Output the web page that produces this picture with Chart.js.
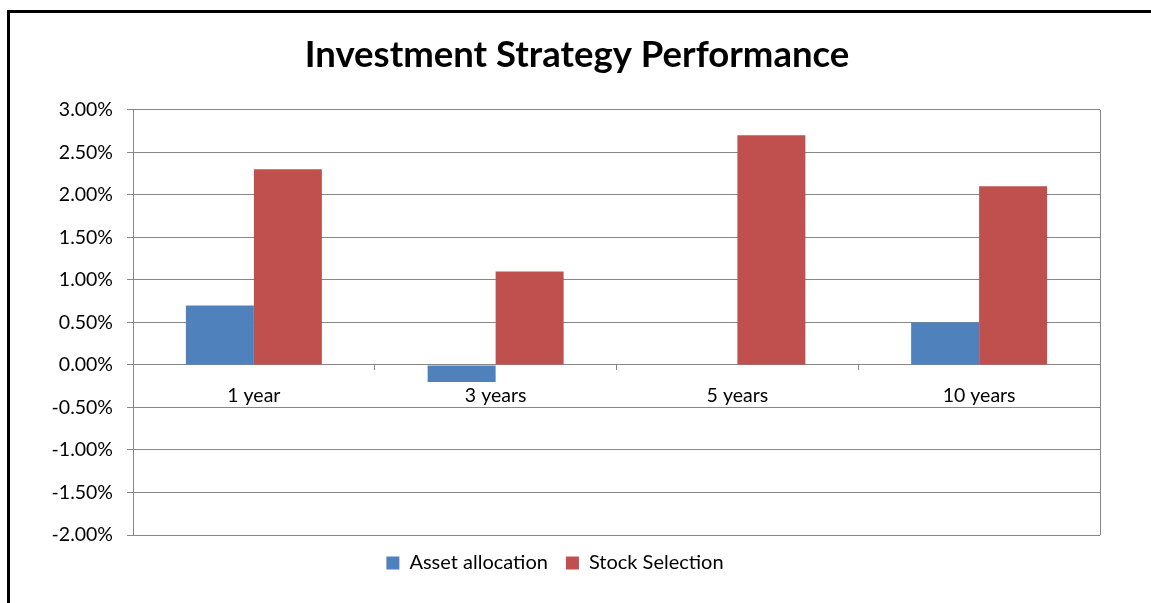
<!DOCTYPE html>
<html>
<head>
<meta charset="utf-8">
<script src="https://cdn.jsdelivr.net/npm/chart.js@4"></script>
<style>
  body { margin: 0; background: #fff; }
  #frame { position: absolute; left: 7px; top: 10px; width: 1144px; height: 593px;
           border-left: 3px solid #000; border-top: 3px solid #000; }
  #chart { display: block; }
</style>
</head>
<body>
<div id="frame"><canvas id="chart" width="1141" height="590"></canvas></div>
<script>
var periods = ['1 year', '3 years', '5 years', '10 years'];
var assetAllocation = [0.7, -0.2, 0, 0.5];
var stockSelection = [2.3, 1.1, 2.7, 2.1];
var gridGray = '#878787';

// plot box right edge, and title centred on the whole frame
var plotBorder = {
    id: 'plotBorder',
    afterLayout: function(chart) {
        if (chart.titleBlock) {
            chart.titleBlock.left += 22;
            chart.titleBlock.right += 22;
        }
    },
    afterDraw: function(chart) {
        var a = chart.chartArea, c = chart.ctx;
        c.save();
        c.strokeStyle = gridGray;
        c.lineWidth = 1;
        c.beginPath();
        c.moveTo(a.right + 0.5, a.top);
        c.lineTo(a.right + 0.5, a.bottom);
        c.stroke();
        c.restore();
    }
};

var ctx = document.getElementById('chart');
var myChart = new Chart(ctx, {
    type: 'bar',
    data: {
        labels: periods,
        datasets: [{
            label: 'Asset allocation',
            data: assetAllocation,
            backgroundColor: '#4F81BD'
        }, {
            label: 'Stock Selection',
            data: stockSelection,
            backgroundColor: '#C0504D'
        }]
    },
    options: {
        responsive: false,
        animation: false,
        barPercentage: 1,
        categoryPercentage: 0.5625,
        layout: { padding: { left: 0, right: 51, top: 0, bottom: 20 } },
        scales: {
            x: {
                position: { y: 0 },
                grid: { drawOnChartArea: false, drawTicks: true, tickLength: 5, color: gridGray },
                border: { color: gridGray },
                ticks: { color: '#000', padding: 14, font: { family: 'Lato', size: 19.5 } }
            },
            y: {
                min: -2,
                max: 3,
                afterFit: function(s) { s.width = 123; },
                grid: { color: gridGray, tickLength: 6 },
                border: { color: gridGray },
                ticks: {
                    stepSize: 0.5,
                    color: '#000',
                    padding: 14,
                    font: { family: 'Lato', size: 19.5 },
                    callback: function(v) { return v.toFixed(2) + '%'; }
                }
            }
        },
        plugins: {
            title: {
                display: true,
                text: 'Investment Strategy Performance',
                color: '#000',
                font: { family: 'Lato', size: 36.5, weight: 'bold' },
                padding: { top: 20, bottom: 33 }
            },
            legend: {
                position: 'bottom',
                labels: {
                    color: '#000',
                    boxWidth: 13,
                    boxHeight: 13,
                    padding: 18,
                    font: { family: 'Lato', size: 20 }
                }
            },
            tooltip: { enabled: false }
        }
    },
    plugins: [plotBorder]
});
</script>
</body>
</html>
